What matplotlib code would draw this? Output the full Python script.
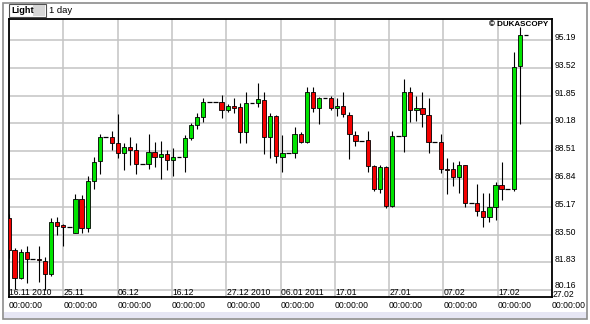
import matplotlib.pyplot as plt
import numpy as np
from matplotlib.patches import Rectangle

plt.rcParams['font.family'] = ['Liberation Sans', 'DejaVu Sans']

# daily bars (Light crude, 1 day); flat bars have open == high == low == close
opens = [84.48, 82.58, 80.87, 82.47, 82.02, 82.02, 81.91, 81.13, 84.28, 84.05,
         83.95, 83.62, 85.62, 83.88, 86.72, 87.92, 89.38, 89.38, 88.98, 88.38,
         88.78, 88.58, 87.74, 87.72, 88.44, 88.18, 88.32, 87.98, 88.14, 88.14,
         89.29, 90.08, 90.55, 91.45, 91.45, 91.44, 90.99, 91.24, 91.15, 89.68,
         91.42, 91.42, 91.59, 89.38, 90.62, 88.18, 88.38, 88.38, 89.54, 89.08,
         92.05, 91.09, 91.69, 91.69, 91.09, 91.23, 90.69, 89.48, 89.14, 89.18,
         87.62, 86.22, 87.58, 85.22, 89.42, 89.44, 92.08, 90.97, 91.08, 90.69,
         89.04, 89.04, 87.42, 87.42, 86.94, 87.68, 85.42, 85.42, 84.92, 84.54,
         85.18, 86.48, 86.22, 86.22, 93.63, 95.49]
highs = [84.74, 82.71, 82.62, 82.82, 82.02, 82.82, 82.17, 84.48, 84.58, 84.14,
         83.95, 85.92, 85.88, 87.02, 88.18, 89.54, 89.38, 89.74, 90.75, 88.98,
         89.38, 89.02, 87.74, 89.54, 89.08, 89.14, 88.58, 88.68, 88.14, 89.48,
         90.22, 90.82, 91.69, 91.45, 91.45, 91.89, 91.35, 91.69, 91.42, 92.08,
         91.42, 92.59, 92.08, 90.82, 90.69, 89.48, 88.38, 89.98, 89.68, 92.38,
         92.38, 91.75, 91.69, 91.84, 91.69, 92.08, 90.88, 89.74, 89.14, 89.72,
         87.68, 87.68, 87.62, 89.74, 89.42, 92.83, 92.38, 91.83, 92.08, 91.69,
         89.04, 89.54, 88.08, 87.88, 87.94, 87.70, 85.42, 86.54, 85.98, 86.02,
         86.68, 87.88, 86.22, 94.49, 95.99, 95.49]
lows = [82.09, 80.23, 80.85, 80.57, 82.02, 80.67, 80.17, 81.04, 83.48, 82.82,
        83.95, 83.58, 83.58, 83.68, 86.24, 87.14, 89.38, 88.58, 88.08, 87.38,
        87.68, 87.14, 87.74, 87.42, 87.58, 86.82, 87.38, 87.02, 88.14, 87.28,
        89.18, 89.83, 90.28, 91.45, 91.45, 90.49, 90.88, 90.79, 88.98, 89.02,
        91.42, 91.18, 88.32, 88.08, 87.82, 87.24, 88.38, 88.08, 88.98, 89.02,
        90.88, 90.14, 91.69, 90.99, 90.62, 90.55, 88.02, 88.82, 89.14, 87.28,
        86.14, 86.02, 85.08, 85.16, 89.42, 88.48, 90.28, 90.34, 89.98, 88.42,
        89.04, 87.18, 85.94, 86.42, 85.98, 85.14, 85.42, 84.62, 83.98, 84.28,
        84.38, 85.58, 86.22, 86.14, 90.13, 95.49]
closes = [82.58, 80.87, 82.44, 82.02, 82.02, 81.95, 81.13, 84.28, 84.02, 83.95,
          83.95, 85.62, 83.88, 86.72, 87.88, 89.38, 89.38, 88.98, 88.38, 88.78,
          88.58, 87.74, 87.74, 88.48, 88.18, 88.32, 87.98, 88.14, 88.14, 89.29,
          90.08, 90.55, 91.45, 91.45, 91.45, 90.99, 91.24, 91.12, 89.68, 91.42,
          91.42, 91.63, 89.38, 90.62, 88.22, 88.38, 88.38, 89.54, 89.08, 92.05,
          91.09, 91.69, 91.69, 91.09, 91.23, 90.73, 89.54, 89.14, 89.14, 87.62,
          86.22, 87.58, 85.22, 89.42, 89.42, 92.08, 90.99, 91.08, 90.73, 89.04,
          89.04, 87.42, 87.38, 86.94, 87.68, 85.42, 85.42, 84.92, 84.54, 85.18,
          86.48, 86.22, 86.22, 93.59, 95.49, 95.49]

price_levels = [95.19, 93.52, 91.85, 90.18, 88.51, 86.84, 85.17, 83.50, 81.83, 80.16]
date_labels = ['16.11 2010', '25.11', '06.12', '16.12', '27.12 2010', '06.01 2011',
               '17.01', '27.01', '07.02', '17.02', '27.02']
time_labels = ['00:00:00'] * 11

W, H = 590, 324
fig = plt.figure(figsize=(W / 100, H / 100), dpi=100)
fig.patch.set_facecolor('white')


def fx(x):
    return x / W


def fy(y):
    return 1 - y / H


# outer frame and header
fig.add_artist(Rectangle((fx(4), fy(318)), fx(583), 6 / H, transform=fig.transFigure,
                         facecolor='#e6e6f4', edgecolor='none'))
fig.add_artist(Rectangle((fx(3), fy(319)), fx(584), 316 / H, transform=fig.transFigure,
                         fill=False, edgecolor='#8c8c8c', lw=1.2))
fig.add_artist(Rectangle((fx(9), fy(17)), fx(37), 13 / H, transform=fig.transFigure,
                         facecolor='white', edgecolor='#505050', lw=0.8))
fig.add_artist(Rectangle((fx(33), fy(16.3)), fx(12.3), 11.6 / H, transform=fig.transFigure,
                         facecolor='#d6d6d6', edgecolor='none'))
fig.text(fx(11), fy(10.5), 'Light', fontsize=6.6, fontweight='bold', va='center')
fig.text(fx(49), fy(10.5), '1 day', fontsize=6.8, va='center')

x0, x1 = 0.08, 89.28
grid_x = np.linspace(x0, x1, 11)
ymin, ymax = 79.75, 96.45

ax = fig.add_axes([fx(9), 1 - 297 / H, (552 - 9) / W, (297 - 19) / H])
ax.set_xlim(x0, x1)
ax.set_ylim(ymin, ymax)

o = np.array(opens)
h = np.array(highs)
l = np.array(lows)
c = np.array(closes)
x = np.arange(len(o))
flat = h == l

ax.vlines(x[~flat], l[~flat], h[~flat], color='black', lw=0.8, zorder=3)
ax.hlines(c[flat], x[flat] - 0.4, x[flat] + 0.4, color='black', lw=0.9, zorder=3)

body = ~flat
bottoms = np.minimum(o, c)[body]
heights = np.maximum(np.abs(c - o)[body], 0.06)
colors = np.where(c[body] >= o[body], '#00e400', '#f40000')
ax.bar(x[body], heights, bottom=bottoms, width=0.7, color=colors,
       edgecolor='black', linewidth=0.6, zorder=4)

# axes, grid, labels
ax.set_yticks(price_levels)
ax.set_yticklabels(['%.2f' % v for v in price_levels])
ax.yaxis.tick_right()
ax.tick_params(axis='y', length=0, pad=1.8, labelsize=6.2)
ylabs = ax.get_yticklabels()
for lab in ylabs:
    lab.set_verticalalignment('baseline')
ylabs[-1].set_verticalalignment('bottom')

ax.set_xticks(grid_x)
ax.set_xticklabels(time_labels)
ax.tick_params(axis='x', length=0, pad=3.2, labelsize=6.2)
for lab in ax.get_xticklabels():
    lab.set_horizontalalignment('left')

ax.grid(True, color='#c4c4c4', lw=1.1, zorder=0)
ax.set_axisbelow(True)
for s in ax.spines.values():
    s.set_color('black')
    s.set_linewidth(1.3)

for i, (gx, lab) in enumerate(zip(grid_x, date_labels)):
    dy = 1.7 if i < len(date_labels) - 1 else 0.2
    ax.annotate(lab, (gx, ymin), xytext=(0.3, dy), textcoords='offset points',
                fontsize=6.2, ha='left', va='baseline', annotation_clip=False, zorder=5)

ax.text(0.9926, 0.98, '\u00a9 DUKASCOPY', transform=ax.transAxes, fontsize=5.8,
        fontweight='bold', ha='right', va='center', zorder=5)

fig.savefig('out.png', dpi=100)
